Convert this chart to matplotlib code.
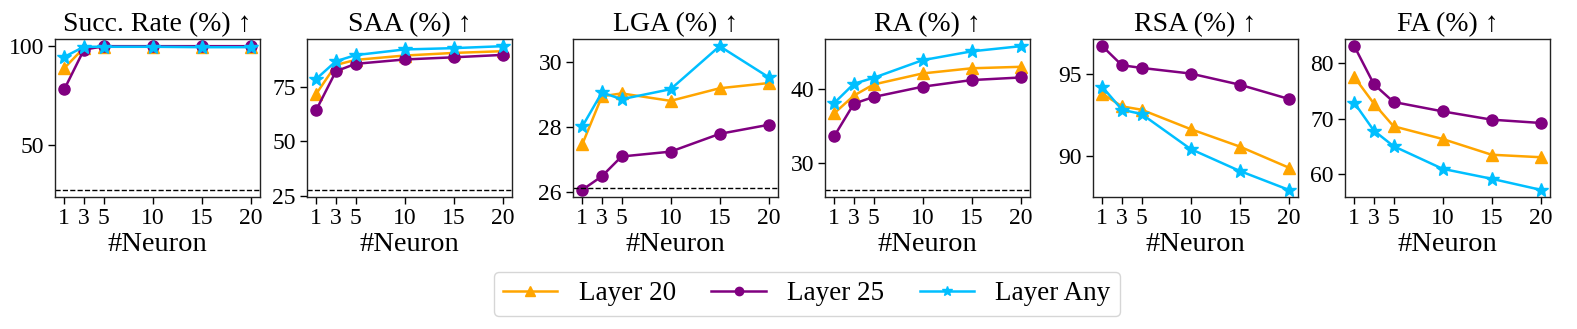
import matplotlib
matplotlib.use("Agg")
import matplotlib.pyplot as plt

plt.rcParams['font.family'] = ['Liberation Serif', 'DejaVu Serif']
plt.rcParams['mathtext.fontset'] = 'stix'

neurons = [1, 3, 5, 10, 15, 20]
titles = ["Succ. Rate (%) ↑", "SAA (%) ↑", "LGA (%) ↑", "RA (%) ↑", "RSA (%) ↑", "FA (%) ↑"]

layer20 = [
    [88.7, 99.0, 99.5, 99.5, 99.5, 99.5],
    [71.9, 85.1, 87.4, 89.4, 90.6, 91.4],
    [27.47, 28.95, 29.04, 28.81, 29.20, 29.36],
    [36.7, 39.1, 40.6, 42.1, 42.8, 43.0],
    [93.79, 93.02, 92.82, 91.65, 90.60, 89.33],
    [77.5, 72.7, 68.6, 66.3, 63.45, 63.0],
]
layer25 = [
    [78.0, 98.0, 99.8, 99.8, 99.8, 99.8],
    [64.5, 82.2, 85.6, 87.6, 88.6, 89.7],
    [26.06, 26.48, 27.09, 27.24, 27.79, 28.07],
    [33.6, 38.0, 38.9, 40.3, 41.2, 41.55],
    [96.65, 95.50, 95.34, 95.00, 94.33, 93.47],
    [83.1, 76.2, 73.0, 71.3, 69.8, 69.2],
]
layer_any = [
    [94.4, 99.5, 99.5, 99.5, 99.3, 99.3],
    [78.7, 86.8, 89.6, 92.2, 92.8, 93.7],
    [28.02, 29.07, 28.86, 29.17, 30.50, 29.54],
    [38.1, 40.7, 41.5, 43.9, 45.1, 45.8],
    [94.20, 92.82, 92.56, 90.45, 89.13, 87.99],
    [72.85, 67.8, 65.0, 60.9, 59.1, 57.1],
]
baselines = [27.1, 27.8, 26.12, 26.3, None, None]
yticks = [[50, 100], [25, 50, 75], [26, 28, 30], [30, 40], [90, 95], [60, 70, 80]]

series = [
    ("Layer 20", layer20, "#FFA500", "^", 9),
    ("Layer 25", layer25, "#800080", "o", 8),
    ("Layer Any", layer_any, "#00BFFF", "*", 10),
]

W, H = 1577, 329
fig = plt.figure(figsize=(W / 100, H / 100), dpi=100)
lefts = [55, 307, 573, 825, 1093, 1345]
aw = 205
bottom_px, top_px = 197, 39

handles = []
for i in range(6):
    ax = fig.add_axes([lefts[i] / W, (H - bottom_px) / H, aw / W, (bottom_px - top_px) / H])
    for name, data, color, marker, ms in series:
        h, = ax.plot(neurons, data[i], color=color, marker=marker, markersize=ms,
                     linewidth=1.8, label=name)
        if i == 0:
            handles.append(h)
    if baselines[i] is not None:
        ax.axhline(baselines[i], color='black', linestyle='--', linewidth=1.0)
    ax.set_title(titles[i], fontsize=20, pad=6)
    ax.set_xlabel("#Neuron", fontsize=20.5, labelpad=2)
    ax.set_xticks(neurons)
    ax.set_yticks(yticks[i])
    ax.tick_params(labelsize=17, length=5, width=1, pad=3)
    for s in ax.spines.values():
        s.set_linewidth(1.0)
        s.set_color('#222222')

fig.legend(handles=handles, loc='center', bbox_to_anchor=(807 / W, 35 / H), ncol=3,
           fontsize=19.5, handlelength=2.0, handletextpad=0.8, columnspacing=1.3,
           markerscale=0.75, frameon=True, borderpad=0.35)

fig.savefig("out.png", dpi=100)
